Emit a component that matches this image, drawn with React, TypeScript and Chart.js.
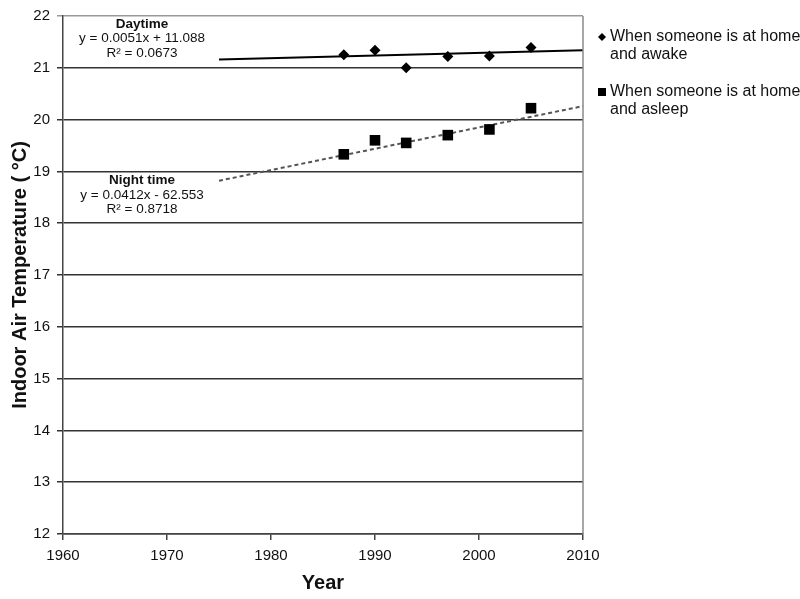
import React, { useEffect, useRef } from "react";
import { Chart, registerables } from "chart.js";

Chart.register(...registerables);

const years = [1987, 1990, 1993, 1997, 2001, 2005];
const awake = [21.25, 21.34, 21.0, 21.22, 21.23, 21.39];
const asleep = [19.33, 19.6, 19.55, 19.7, 19.81, 20.22];
const trendYears = [1975, 2010];
const awakeTrend = [21.16, 21.34];
const asleepTrend = [18.82, 20.26];
const xTicks = [1960, 1970, 1980, 1990, 2000, 2010];
const yTicks = [12, 13, 14, 15, 16, 17, 18, 19, 20, 21, 22];
const legendLabels = [
  ["When someone is at home", "and awake"],
  ["When someone is at home", "and asleep"],
];
const dayNote = ["Daytime", "y = 0.0051x + 11.088", "R² = 0.0673"];
const nightNote = ["Night time", "y = 0.0412x - 62.553", "R² = 0.8718"];

const FONT = "'Liberation Sans', Arial, sans-serif";

export default function App() {
  const ref = useRef<HTMLCanvasElement | null>(null);
  useEffect(() => {
    document.body.style.margin = "0";
    const canvas = ref.current;
    if (!canvas) return;

    const overlay = {
      id: "overlay",
      afterDraw(chart: any) {
        const { ctx, chartArea, scales } = chart;
        const xs = scales.x;
        const ys = scales.y;
        ctx.save();
        // right border
        ctx.strokeStyle = "#8a8a8a";
        ctx.lineWidth = 1.5;
        ctx.beginPath();
        ctx.moveTo(chartArea.right, chartArea.top);
        ctx.lineTo(chartArea.right, chartArea.bottom);
        ctx.stroke();

        // annotations
        ctx.fillStyle = "#111";
        ctx.textAlign = "center";
        ctx.textBaseline = "middle";
        const cx = xs.getPixelForValue(1967.6);
        const drawNote = (lines: string[], y0: number) => {
          lines.forEach((t, i) => {
            ctx.font = (i === 0 ? "bold " : "") + "13.5px " + FONT;
            ctx.fillText(t, cx, y0 + i * 14.5);
          });
        };
        drawNote(dayNote, ys.getPixelForValue(21.75) - 5);
        drawNote(nightNote, ys.getPixelForValue(18.77) - 3);

        // legend
        ctx.textAlign = "left";
        ctx.font = "16px " + FONT;
        const lx = chartArea.right + 19;
        const tx = chartArea.right + 27;
        const ly = [37, 92];
        legendLabels.forEach((lines, i) => {
          const y = ly[i];
          ctx.fillStyle = "#000";
          if (i === 0) {
            ctx.beginPath();
            ctx.moveTo(lx - 4, y);
            ctx.lineTo(lx, y - 4);
            ctx.lineTo(lx + 4, y);
            ctx.lineTo(lx, y + 4);
            ctx.closePath();
            ctx.fill();
          } else {
            ctx.fillRect(lx - 4, y - 4, 8, 8);
          }
          ctx.fillStyle = "#111";
          lines.forEach((t, j) => ctx.fillText(t, tx, y + j * 18));
        });
        ctx.restore();
      },
    };

    const chart = new Chart(canvas, {
      type: "scatter",
      data: {
        datasets: [
          {
            label: "awake",
            data: years.map((x, i) => ({ x, y: awake[i] })),
            pointStyle: "rectRot",
            pointRadius: 5.5,
            backgroundColor: "#000",
            borderColor: "#000",
            borderWidth: 0,
          },
          {
            label: "asleep",
            data: years.map((x, i) => ({ x, y: asleep[i] })),
            pointStyle: "rect",
            pointRadius: 7.5,
            backgroundColor: "#000",
            borderColor: "#000",
            borderWidth: 0,
          },
          {
            label: "awakeTrend",
            type: "line",
            data: trendYears.map((x, i) => ({ x, y: awakeTrend[i] })),
            borderColor: "#000",
            borderWidth: 2,
            pointRadius: 0,
            fill: false,
          },
          {
            label: "asleepTrend",
            type: "line",
            data: trendYears.map((x, i) => ({ x, y: asleepTrend[i] })),
            borderColor: "#555",
            borderWidth: 2,
            borderDash: [4, 3],
            pointRadius: 0,
            fill: false,
          },
        ],
      },
      options: {
        animation: false,
        responsive: true,
        maintainAspectRatio: false,
        layout: { padding: { top: 10, right: 217, left: 0, bottom: 0 } },
        plugins: {
          legend: { display: false },
          tooltip: { enabled: false },
        },
        scales: {
          x: {
            type: "linear",
            min: 1960,
            max: 2010,
            afterBuildTicks: (axis: any) => {
              axis.ticks = xTicks.map((v) => ({ value: v }));
            },
            afterFit: (axis: any) => {
              axis.height = 65;
            },
            grid: {
              drawOnChartArea: false,
              drawTicks: true,
              tickLength: 6,
              color: "#444",
              lineWidth: 1.5,
            },
            border: { color: "#444", width: 1.5 },
            ticks: {
              color: "#111",
              font: { family: FONT, size: 15 },
              padding: 7,
              maxRotation: 0,
              callback: (v: any) => String(v),
            },
            title: {
              display: true,
              text: "Year",
              color: "#111",
              font: { family: FONT, size: 20, weight: "bold" },
              padding: { top: 0, bottom: 4 },
            },
          },
          y: {
            type: "linear",
            min: 12,
            max: 22,
            afterBuildTicks: (axis: any) => {
              axis.ticks = yTicks.map((v) => ({ value: v }));
            },
            afterFit: (axis: any) => {
              axis.width = 63;
            },
            grid: {
              drawTicks: true,
              tickLength: 6,
              color: (c: any) => (c.tick && c.tick.value === 22 ? "#999" : "#333"),
              lineWidth: 1.5,
            },
            border: { color: "#444", width: 1.5 },
            ticks: {
              color: "#111",
              font: { family: FONT, size: 15 },
              padding: 7,
            },
            title: {
              display: true,
              text: "Indoor Air Temperature ( °C)",
              color: "#111",
              font: { family: FONT, size: 20, weight: "bold" },
              padding: { top: 8, bottom: 0 },
            },
          },
        },
      },
      plugins: [overlay],
    } as any);
    return () => chart.destroy();
  }, []);

  return (
    <div style={{ position: "fixed", left: 0, top: 0, width: 800, height: 599, background: "#fff" }}>
      <canvas ref={ref} />
    </div>
  );
}
